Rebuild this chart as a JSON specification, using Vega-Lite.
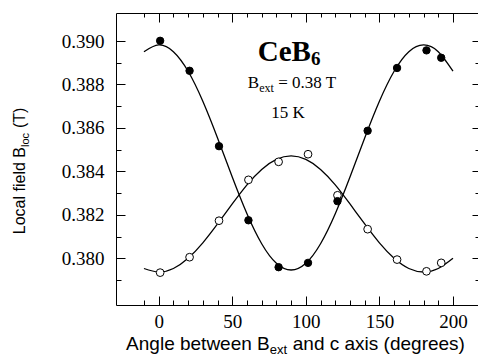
{
  "$schema": "https://vega.github.io/schema/vega-lite/v6.json",
  "width": 362,
  "height": 292,
  "autosize": {"type": "none"},
  "padding": {"left": 116, "top": 13, "right": 0, "bottom": 53},
  "background": "white",
  "config": {
    "view": {"stroke": null},
    "axis": {"grid": false, "domainColor": "black", "tickColor": "black", "labelColor": "black", "tickWidth": 1, "domainWidth": 1, "title": null, "labelFont": "Liberation Serif", "labelFontSize": 19}
  },
  "datasets": {
    "curves": [
      {"angle": -10, "bloc": 0.38951, "series": "filled"},
      {"angle": 0, "bloc": 0.38982, "series": "filled"},
      {"angle": 10, "bloc": 0.38951, "series": "filled"},
      {"angle": 20, "bloc": 0.38861, "series": "filled"},
      {"angle": 30, "bloc": 0.38723, "series": "filled"},
      {"angle": 40, "bloc": 0.38554, "series": "filled"},
      {"angle": 50, "bloc": 0.38374, "series": "filled"},
      {"angle": 60, "bloc": 0.38205, "series": "filled"},
      {"angle": 70, "bloc": 0.38067, "series": "filled"},
      {"angle": 80, "bloc": 0.37977, "series": "filled"},
      {"angle": 90, "bloc": 0.37946, "series": "filled"},
      {"angle": 100, "bloc": 0.37977, "series": "filled"},
      {"angle": 110, "bloc": 0.38067, "series": "filled"},
      {"angle": 120, "bloc": 0.38205, "series": "filled"},
      {"angle": 130, "bloc": 0.38374, "series": "filled"},
      {"angle": 140, "bloc": 0.38554, "series": "filled"},
      {"angle": 150, "bloc": 0.38723, "series": "filled"},
      {"angle": 160, "bloc": 0.38861, "series": "filled"},
      {"angle": 170, "bloc": 0.38951, "series": "filled"},
      {"angle": 180, "bloc": 0.38982, "series": "filled"},
      {"angle": 190, "bloc": 0.38951, "series": "filled"},
      {"angle": 200, "bloc": 0.38861, "series": "filled"},
      {"angle": -10, "bloc": 0.37953, "series": "open"},
      {"angle": 0, "bloc": 0.37937, "series": "open"},
      {"angle": 10, "bloc": 0.37953, "series": "open"},
      {"angle": 20, "bloc": 0.38000, "series": "open"},
      {"angle": 30, "bloc": 0.38071, "series": "open"},
      {"angle": 40, "bloc": 0.38158, "series": "open"},
      {"angle": 50, "bloc": 0.38250, "series": "open"},
      {"angle": 60, "bloc": 0.38338, "series": "open"},
      {"angle": 70, "bloc": 0.38409, "series": "open"},
      {"angle": 80, "bloc": 0.38455, "series": "open"},
      {"angle": 90, "bloc": 0.38471, "series": "open"},
      {"angle": 100, "bloc": 0.38455, "series": "open"},
      {"angle": 110, "bloc": 0.38409, "series": "open"},
      {"angle": 120, "bloc": 0.38338, "series": "open"},
      {"angle": 130, "bloc": 0.38250, "series": "open"},
      {"angle": 140, "bloc": 0.38158, "series": "open"},
      {"angle": 150, "bloc": 0.38071, "series": "open"},
      {"angle": 160, "bloc": 0.38000, "series": "open"},
      {"angle": 170, "bloc": 0.37953, "series": "open"},
      {"angle": 180, "bloc": 0.37937, "series": "open"},
      {"angle": 190, "bloc": 0.37953, "series": "open"},
      {"angle": 200, "bloc": 0.38000, "series": "open"}
    ],
    "points": [
      {"angle": 1, "bloc": 0.39001, "series": "filled"},
      {"angle": 21, "bloc": 0.38863, "series": "filled"},
      {"angle": 41, "bloc": 0.38516, "series": "filled"},
      {"angle": 61, "bloc": 0.38175, "series": "filled"},
      {"angle": 81.5, "bloc": 0.37959, "series": "filled"},
      {"angle": 101.5, "bloc": 0.37979, "series": "filled"},
      {"angle": 121.5, "bloc": 0.38263, "series": "filled"},
      {"angle": 142, "bloc": 0.38587, "series": "filled"},
      {"angle": 162, "bloc": 0.38876, "series": "filled"},
      {"angle": 182, "bloc": 0.38957, "series": "filled"},
      {"angle": 192, "bloc": 0.38923, "series": "filled"},
      {"angle": 1, "bloc": 0.37934, "series": "open"},
      {"angle": 21, "bloc": 0.38005, "series": "open"},
      {"angle": 41, "bloc": 0.38173, "series": "open"},
      {"angle": 61, "bloc": 0.38361, "series": "open"},
      {"angle": 81.5, "bloc": 0.38444, "series": "open"},
      {"angle": 101.5, "bloc": 0.38479, "series": "open"},
      {"angle": 121.5, "bloc": 0.38290, "series": "open"},
      {"angle": 142, "bloc": 0.38134, "series": "open"},
      {"angle": 162, "bloc": 0.37994, "series": "open"},
      {"angle": 182, "bloc": 0.37940, "series": "open"},
      {"angle": 192, "bloc": 0.37979, "series": "open"}
    ],
    "labels": [
      {"piece": "cebig", "angle": 103.5, "bloc": 0.389093, "label": "CeB"},
      {"piece": "cesub", "angle": 103.5, "bloc": 0.389093, "label": "6"},
      {"piece": "bmain", "angle": 68.3, "bloc": 0.387823, "label": "B"},
      {"piece": "bsub", "angle": 68.3, "bloc": 0.387823, "label": "ext"},
      {"piece": "brest", "angle": 68.3, "bloc": 0.387823, "label": "= 0.38 T"},
      {"piece": "temp", "angle": 87.9, "bloc": 0.386442, "label": "15 K"},
      {"piece": "xmain", "angle": 75.5, "bloc": 0.375779, "label": "Angle between B"},
      {"piece": "xsub", "angle": 75.5, "bloc": 0.375779, "label": "ext"},
      {"piece": "xrest", "angle": 75.5, "bloc": 0.375779, "label": "and c axis (degrees)"},
      {"piece": "ymain", "angle": -90.9, "bloc": 0.385121, "label": "Local field B"},
      {"piece": "ysub", "angle": -90.9, "bloc": 0.385121, "label": "loc"},
      {"piece": "yrest", "angle": -90.9, "bloc": 0.385121, "label": "(T)"}
    ]
  },
  "resolve": {"axis": {"x": "independent", "y": "independent"}},
  "layer": [
    {
      "data": {"name": "curves"},
      "transform": [{"filter": "datum.series === 'open'"}],
      "mark": {"type": "line", "color": "black", "strokeWidth": 1.3, "interpolate": "natural"},
      "encoding": {
        "x": {"field": "angle", "type": "quantitative", "scale": {"domain": [-29, 217], "nice": false, "zero": false},
          "axis": {"orient": "bottom", "values": [0, 50, 100, 150, 200], "tickSize": -9, "labelPadding": 16, "labelFont": "Liberation Serif", "labelFontSize": 19, "labelFlush": false, "domain": true}},
        "y": {"field": "bloc", "type": "quantitative", "scale": {"domain": [0.37785, 0.39129], "nice": false, "zero": false},
          "axis": {"orient": "left", "values": [0.380, 0.382, 0.384, 0.386, 0.388, 0.390], "format": ".3f", "tickSize": -9, "labelPadding": 21, "labelFont": "Liberation Serif", "labelFontSize": 19, "labelFlush": false, "domain": true}}
      }
    },
    {
      "data": {"name": "curves"},
      "transform": [{"filter": "datum.series === 'filled'"}],
      "mark": {"type": "line", "color": "black", "strokeWidth": 1.3, "interpolate": "natural"},
      "encoding": {
        "x": {"field": "angle", "type": "quantitative", "scale": {"domain": [-29, 217], "nice": false, "zero": false},
          "axis": {"orient": "bottom", "values": [-10, 10, 20, 30, 40, 60, 70, 80, 90, 110, 120, 130, 140, 160, 170, 180, 190], "tickSize": -5, "labels": false, "domain": false}},
        "y": {"field": "bloc", "type": "quantitative", "scale": {"domain": [0.37785, 0.39129], "nice": false, "zero": false},
          "axis": {"orient": "left", "values": [0.379, 0.381, 0.383, 0.385, 0.387, 0.389], "tickSize": -5, "labels": false, "domain": false}}
      }
    },
    {
      "data": {"name": "points"},
      "transform": [{"filter": "datum.series === 'open'"}],
      "mark": {"type": "point", "shape": "circle", "filled": true, "fill": "white", "stroke": "black", "strokeWidth": 1, "size": 60, "opacity": 1},
      "encoding": {
        "x": {"field": "angle", "type": "quantitative", "scale": {"domain": [-29, 217], "nice": false, "zero": false},
          "axis": {"orient": "top", "values": [0, 50, 100, 150, 200], "tickSize": -9, "labels": false, "domain": true}},
        "y": {"field": "bloc", "type": "quantitative", "scale": {"domain": [0.37785, 0.39129], "nice": false, "zero": false},
          "axis": {"orient": "right", "values": [0.380, 0.382, 0.384, 0.386, 0.388, 0.390], "tickSize": -6, "labels": false, "domain": false}}
      }
    },
    {
      "data": {"name": "points"},
      "transform": [{"filter": "datum.series === 'filled'"}],
      "mark": {"type": "point", "shape": "circle", "filled": true, "fill": "black", "stroke": "black", "strokeWidth": 1, "size": 55, "opacity": 1},
      "encoding": {
        "x": {"field": "angle", "type": "quantitative", "scale": {"domain": [-29, 217], "nice": false, "zero": false},
          "axis": {"orient": "top", "values": [-10, 10, 20, 30, 40, 60, 70, 80, 90, 110, 120, 130, 140, 160, 170, 180, 190], "tickSize": -4, "labels": false, "domain": false}},
        "y": {"field": "bloc", "type": "quantitative", "scale": {"domain": [0.37785, 0.39129], "nice": false, "zero": false},
          "axis": {"orient": "right", "values": [0.379, 0.381, 0.383, 0.385, 0.387, 0.389], "tickSize": -3, "labels": false, "domain": false}}
      }
    },
    {
      "data": {"name": "labels"},
      "transform": [{"filter": "datum.piece === 'cebig'"}],
      "mark": {"type": "text", "font": "Liberation Serif", "fontWeight": "bold", "fontSize": 29, "align": "right", "baseline": "alphabetic", "color": "black"},
      "encoding": {
        "x": {"field": "angle", "type": "quantitative", "scale": {"domain": [-29, 217], "nice": false, "zero": false}, "axis": null},
        "y": {"field": "bloc", "type": "quantitative", "scale": {"domain": [0.37785, 0.39129], "nice": false, "zero": false}, "axis": null},
        "text": {"field": "label"}
      }
    },
    {
      "data": {"name": "labels"},
      "transform": [{"filter": "datum.piece === 'cesub'"}],
      "mark": {"type": "text", "font": "Liberation Serif", "fontWeight": "bold", "fontSize": 19, "align": "left", "baseline": "alphabetic", "dy": 4, "color": "black"},
      "encoding": {
        "x": {"field": "angle", "type": "quantitative", "scale": {"domain": [-29, 217], "nice": false, "zero": false}, "axis": null},
        "y": {"field": "bloc", "type": "quantitative", "scale": {"domain": [0.37785, 0.39129], "nice": false, "zero": false}, "axis": null},
        "text": {"field": "label"}
      }
    },
    {
      "data": {"name": "labels"},
      "transform": [{"filter": "datum.piece === 'bmain'"}],
      "mark": {"type": "text", "font": "Liberation Serif", "fontSize": 17, "align": "right", "baseline": "alphabetic", "color": "black"},
      "encoding": {
        "x": {"field": "angle", "type": "quantitative", "scale": {"domain": [-29, 217], "nice": false, "zero": false}, "axis": null},
        "y": {"field": "bloc", "type": "quantitative", "scale": {"domain": [0.37785, 0.39129], "nice": false, "zero": false}, "axis": null},
        "text": {"field": "label"}
      }
    },
    {
      "data": {"name": "labels"},
      "transform": [{"filter": "datum.piece === 'bsub'"}],
      "mark": {"type": "text", "font": "Liberation Serif", "fontSize": 12, "align": "left", "baseline": "alphabetic", "dy": 3.5, "color": "black"},
      "encoding": {
        "x": {"field": "angle", "type": "quantitative", "scale": {"domain": [-29, 217], "nice": false, "zero": false}, "axis": null},
        "y": {"field": "bloc", "type": "quantitative", "scale": {"domain": [0.37785, 0.39129], "nice": false, "zero": false}, "axis": null},
        "text": {"field": "label"}
      }
    },
    {
      "data": {"name": "labels"},
      "transform": [{"filter": "datum.piece === 'brest'"}],
      "mark": {"type": "text", "font": "Liberation Serif", "fontSize": 17, "align": "left", "baseline": "alphabetic", "dx": 19, "color": "black"},
      "encoding": {
        "x": {"field": "angle", "type": "quantitative", "scale": {"domain": [-29, 217], "nice": false, "zero": false}, "axis": null},
        "y": {"field": "bloc", "type": "quantitative", "scale": {"domain": [0.37785, 0.39129], "nice": false, "zero": false}, "axis": null},
        "text": {"field": "label"}
      }
    },
    {
      "data": {"name": "labels"},
      "transform": [{"filter": "datum.piece === 'temp'"}],
      "mark": {"type": "text", "font": "Liberation Serif", "fontSize": 17, "align": "center", "baseline": "alphabetic", "color": "black"},
      "encoding": {
        "x": {"field": "angle", "type": "quantitative", "scale": {"domain": [-29, 217], "nice": false, "zero": false}, "axis": null},
        "y": {"field": "bloc", "type": "quantitative", "scale": {"domain": [0.37785, 0.39129], "nice": false, "zero": false}, "axis": null},
        "text": {"field": "label"}
      }
    },
    {
      "data": {"name": "labels"},
      "transform": [{"filter": "datum.piece === 'xmain'"}],
      "mark": {"type": "text", "font": "Liberation Sans", "fontSize": 19, "align": "right", "baseline": "alphabetic", "color": "black"},
      "encoding": {
        "x": {"field": "angle", "type": "quantitative", "scale": {"domain": [-29, 217], "nice": false, "zero": false}, "axis": null},
        "y": {"field": "bloc", "type": "quantitative", "scale": {"domain": [0.37785, 0.39129], "nice": false, "zero": false}, "axis": null},
        "text": {"field": "label"}
      }
    },
    {
      "data": {"name": "labels"},
      "transform": [{"filter": "datum.piece === 'xsub'"}],
      "mark": {"type": "text", "font": "Liberation Sans", "fontSize": 13, "align": "left", "baseline": "alphabetic", "dy": 4.5, "color": "black"},
      "encoding": {
        "x": {"field": "angle", "type": "quantitative", "scale": {"domain": [-29, 217], "nice": false, "zero": false}, "axis": null},
        "y": {"field": "bloc", "type": "quantitative", "scale": {"domain": [0.37785, 0.39129], "nice": false, "zero": false}, "axis": null},
        "text": {"field": "label"}
      }
    },
    {
      "data": {"name": "labels"},
      "transform": [{"filter": "datum.piece === 'xrest'"}],
      "mark": {"type": "text", "font": "Liberation Sans", "fontSize": 19, "align": "left", "baseline": "alphabetic", "dx": 23, "color": "black"},
      "encoding": {
        "x": {"field": "angle", "type": "quantitative", "scale": {"domain": [-29, 217], "nice": false, "zero": false}, "axis": null},
        "y": {"field": "bloc", "type": "quantitative", "scale": {"domain": [0.37785, 0.39129], "nice": false, "zero": false}, "axis": null},
        "text": {"field": "label"}
      }
    },
    {
      "data": {"name": "labels"},
      "transform": [{"filter": "datum.piece === 'ymain'"}],
      "mark": {"type": "text", "font": "Liberation Sans", "fontSize": 16, "align": "right", "baseline": "alphabetic", "angle": 270, "color": "black"},
      "encoding": {
        "x": {"field": "angle", "type": "quantitative", "scale": {"domain": [-29, 217], "nice": false, "zero": false}, "axis": null},
        "y": {"field": "bloc", "type": "quantitative", "scale": {"domain": [0.37785, 0.39129], "nice": false, "zero": false}, "axis": null},
        "text": {"field": "label"}
      }
    },
    {
      "data": {"name": "labels"},
      "transform": [{"filter": "datum.piece === 'ysub'"}],
      "mark": {"type": "text", "font": "Liberation Sans", "fontSize": 11, "align": "left", "baseline": "alphabetic", "angle": 270, "dy": 4, "color": "black"},
      "encoding": {
        "x": {"field": "angle", "type": "quantitative", "scale": {"domain": [-29, 217], "nice": false, "zero": false}, "axis": null},
        "y": {"field": "bloc", "type": "quantitative", "scale": {"domain": [0.37785, 0.39129], "nice": false, "zero": false}, "axis": null},
        "text": {"field": "label"}
      }
    },
    {
      "data": {"name": "labels"},
      "transform": [{"filter": "datum.piece === 'yrest'"}],
      "mark": {"type": "text", "font": "Liberation Sans", "fontSize": 16, "align": "left", "baseline": "alphabetic", "angle": 270, "dx": 19, "color": "black"},
      "encoding": {
        "x": {"field": "angle", "type": "quantitative", "scale": {"domain": [-29, 217], "nice": false, "zero": false}, "axis": null},
        "y": {"field": "bloc", "type": "quantitative", "scale": {"domain": [0.37785, 0.39129], "nice": false, "zero": false}, "axis": null},
        "text": {"field": "label"}
      }
    }
  ]
}
